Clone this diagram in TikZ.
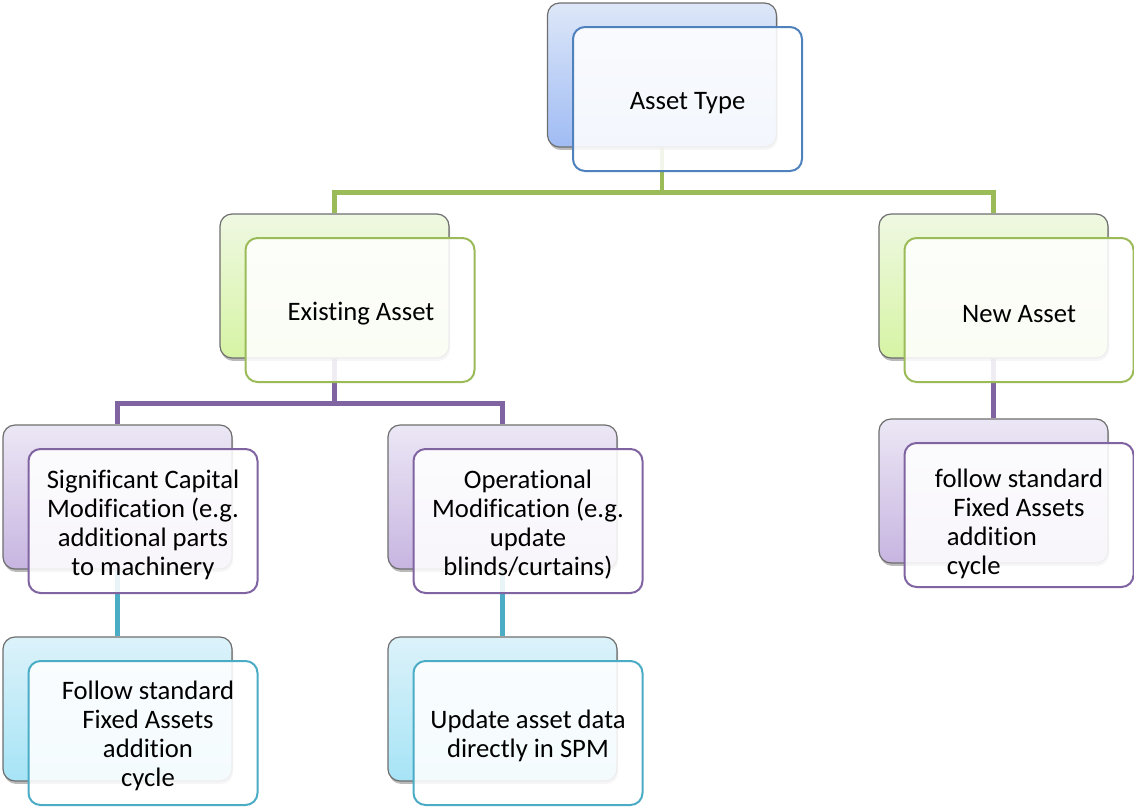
\documentclass[tikz,border=0pt]{standalone}
\usepackage{fontspec}
\setmainfont{Carlito}[Ligatures={NoCommon}]
\usepackage{calc}
\usetikzlibrary{shadows,calc}
\definecolor{backgray}{HTML}{6E6E6E}
\definecolor{blueTop}{HTML}{DDE7F8}
\definecolor{blueBot}{HTML}{A0BCF4}
\definecolor{greenTop}{HTML}{EFF8E2}
\definecolor{greenBot}{HTML}{D6F4A4}
\definecolor{purpleTop}{HTML}{ECE7F5}
\definecolor{purpleBot}{HTML}{C7B5E1}
\definecolor{cyanTop}{HTML}{DCF2FA}
\definecolor{cyanBot}{HTML}{A6E4F6}
\definecolor{blueLine}{HTML}{4F81BD}
\definecolor{greenLine}{HTML}{9BBB59}
\definecolor{purpleLine}{HTML}{8064A2}
\definecolor{cyanLine}{HTML}{4BACC6}
\pgfdeclarelayer{bg}
\pgfdeclarelayer{lines}
\pgfsetlayers{bg,lines,main}
\begin{document}
\begin{tikzpicture}[x=0.75pt,y=-0.75pt,
  box/.style={rectangle,rounded corners=9pt,minimum width=171.75pt,minimum height=108pt,inner sep=0pt},
  backbox/.style={box,draw=backgray,line width=0.9pt,
    drop shadow={shadow xshift=0.8pt,shadow yshift=-2.2pt,opacity=0.38,fill=black!70}},
  bluebk/.style={backbox,top color=blueTop,bottom color=blueBot},
  greenbk/.style={backbox,top color=greenTop,bottom color=greenBot},
  purplebk/.style={backbox,top color=purpleTop,bottom color=purpleBot},
  cyanbk/.style={backbox,top color=cyanTop,bottom color=cyanBot},
  frontbox/.style={box,fill=white,fill opacity=0.88,line width=1.5pt},
  lbl/.style={font=\fontsize{20}{21.75}\selectfont,align=center,inner sep=0pt,text=black},
  conn/.style={line width=3.4pt},
]
\begin{pgfonlayer}{bg}
  \fill[white] (0,0) rectangle (1134,808);
\end{pgfonlayer}
\useasboundingbox (0,0) rectangle (1134,808);

% back boxes
\node[bluebk]   (top-b) at (662,75) {};
\node[greenbk]  (ex-b)  at (334.5,286) {};
\node[greenbk]  (na-b)  at (993.5,286) {};
\node[purplebk] (sig-b) at (117.5,497) {};
\node[purplebk] (op-b)  at (502.5,497) {};
\node[purplebk] (nf-b)  at (993.5,491) {};
\node[cyanbk]   (fo-b)  at (117.5,709) {};
\node[cyanbk]   (up-b)  at (502.5,709) {};

% front boxes
\node[frontbox,draw=blueLine]   (top-f) at (687.5,99) {};
\node[frontbox,draw=greenLine]  (ex-f)  at (360,310) {};
\node[frontbox,draw=greenLine]  (na-f)  at (1019,310) {};
\node[frontbox,draw=purpleLine] (sig-f) at (143,521) {};
\node[frontbox,draw=purpleLine] (op-f)  at (528,521) {};
\node[frontbox,draw=purpleLine] (nf-f)  at (1019,515) {};
\node[frontbox,draw=cyanLine]   (fo-f)  at (143,733) {};
\node[frontbox,draw=cyanLine]   (up-f)  at (528,733) {};

% labels
\node[lbl] (top-t) at ($(top-f.center)+(0,4)$) {Asset Type};
\node[lbl] (ex-t)  at ($(ex-f.center)+(1,4)$) {Existing Asset};
\node[lbl] (na-t)  at ($(na-f.center)+(0,4)$) {New Asset};
\node[lbl] (sig-t) at ($(sig-f.center)+(0,3.5)$) {Significant Capital\\Modification (e.g.\\additional parts\\to machinery};
\node[lbl] (op-t)  at ($(op-f.center)+(0,3.5)$) {Operational\\Modification (e.g.\\update\\blinds/curtains)};
\node[lbl,align=left] (nf-t) at ($(nf-f.center)+(0,9)$) {follow standard\\\makebox[\widthof{follow standard}][c]{Fixed Assets}\\\hspace*{9pt}addition\\\hspace*{9pt}cycle};
\node[lbl] (fo-t)  at ($(fo-f.center)+(5,2.5)$) {Follow standard\\Fixed Assets\\addition\\cycle};
\node[lbl] (up-t)  at ($(up-f.center)+(0,2.5)$) {Update asset data\\directly in SPM};

% connectors
\coordinate (j1) at ($(top-f.south)!0.5!(ex-b.north)$);
\coordinate (j2) at ($(ex-f.south)!0.5!(sig-b.north)$);
\begin{pgfonlayer}{lines}
  \draw[conn,greenLine] (ex-b.north) |- (j1) -| (na-b.north);
  \draw[conn,greenLine] (top-b.south) -- (top-b.south |- j1);
  \draw[conn,purpleLine] (sig-b.north) |- (j2) -| (op-b.north);
  \draw[conn,purpleLine] (ex-b.south) -- (ex-b.south |- j2);
  \draw[conn,purpleLine] (na-b.south) -- (nf-b.north);
  \draw[conn,cyanLine] (sig-b.south) -- (fo-b.north);
  \draw[conn,cyanLine] (op-b.south) -- (up-b.north);
\end{pgfonlayer}
\end{tikzpicture}
\end{document}
